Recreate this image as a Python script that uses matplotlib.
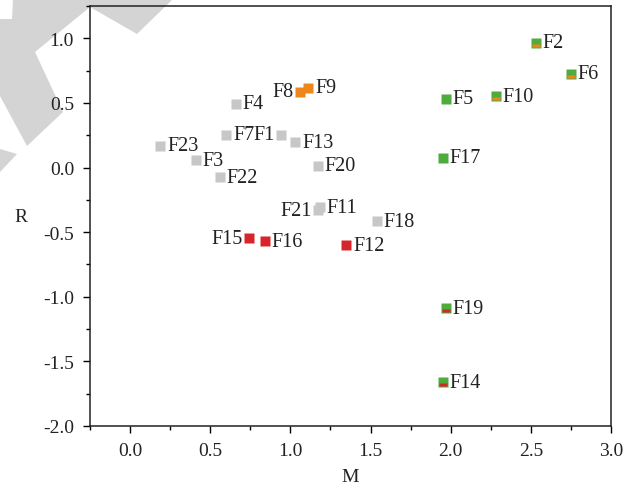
import matplotlib
matplotlib.use("Agg")
import matplotlib.pyplot as plt
from matplotlib.path import Path
from matplotlib.patches import Polygon
from matplotlib.ticker import MultipleLocator

plt.rcParams['font.family'] = ['Liberation Serif', 'DejaVu Serif']
plt.rcParams['axes.unicode_minus'] = False

# gray group
gray_names = ['F1', 'F3', 'F4', 'F7', 'F11', 'F13', 'F18', 'F20', 'F21', 'F22', 'F23']
gray_m = [0.94, 0.41, 0.66, 0.60, 1.182, 1.03, 1.54, 1.17, 1.175, 0.56, 0.187]
gray_r = [0.253, 0.055, 0.495, 0.253, -0.309, 0.196, -0.415, 0.015, -0.33, -0.075, 0.17]

# orange group
orange_names = ['F8', 'F9']
orange_m = [1.058, 1.11]
orange_r = [0.585, 0.616]

# red group
red_names = ['F12', 'F15', 'F16']
red_m = [1.348, 0.742, 0.84]
red_r = [-0.60, -0.549, -0.57]

# green group
green_names = ['F2', 'F5', 'F6', 'F10', 'F14', 'F17', 'F19']
green_m = [2.53, 1.97, 2.75, 2.28, 1.95, 1.95, 1.97]
green_r = [0.966, 0.533, 0.724, 0.551, -1.66, 0.075, -1.09]

# second colour hidden under some green points
under_orange_m = [2.53, 2.75, 2.28]
under_orange_r = [0.966, 0.724, 0.551]
under_red_m = [1.95, 1.97]
under_red_r = [-1.66, -1.09]

left_labels = ['F1', 'F8', 'F15', 'F21']

C_GRAY = '#c9c6c6'
C_ORANGE = '#ef861d'
C_RED = '#d7262b'
C_GREEN = '#4eab3c'
C_TEXT = '#222222'

fig = plt.figure(figsize=(6.37, 4.89), dpi=100)
ax = fig.add_axes([90 / 637, 1 - 427 / 489, 521 / 637, 420 / 489])
ax.set_facecolor('none')

# watermark in the corner (pixel coords -> figure fraction)
def px(pts):
    return [(x / 637, 1 - y / 489) for x, y in pts]

wm1 = [(13, 0), (173, 0), (137, 35), (90, 8), (35, 53), (63, 113), (27, 147), (0, 97), (0, 20), (12, 20)]
wm2 = [(0, 150), (17, 155), (0, 173)]
for pts in (wm1, wm2):
    fig.patches.append(Polygon(px(pts), closed=True, transform=fig.transFigure,
                               facecolor='#d4d4d4', edgecolor='none', zorder=-5))

ms = 7.2
ax.plot(gray_m, gray_r, 's', color=C_GRAY, ms=ms, mec='none', zorder=3)
ax.plot(orange_m, orange_r, 's', color=C_ORANGE, ms=ms, mec='none', zorder=3)
ax.plot(red_m, red_r, 's', color=C_RED, ms=ms, mec='none', zorder=3)
ax.plot(green_m, green_r, 's', color=C_GREEN, ms=ms, mec='none', zorder=3)

stripe = Path([(-0.42, -0.05), (0.42, -0.05), (0.42, -0.38), (-0.42, -0.38), (-0.42, -0.05), (0.5, 0.5)],
              [Path.MOVETO, Path.LINETO, Path.LINETO, Path.LINETO, Path.CLOSEPOLY, Path.MOVETO])
ax.plot(under_orange_m, under_orange_r, ls='none', marker=stripe, color=C_ORANGE, ms=ms, mec='none', zorder=4)
ax.plot(under_red_m, under_red_r, ls='none', marker=stripe, color=C_RED, ms=ms, mec='none', zorder=4)

for names, ms_, rs_ in ((gray_names, gray_m, gray_r), (orange_names, orange_m, orange_r),
                        (red_names, red_m, red_r), (green_names, green_m, green_r)):
    for n, x, y in zip(names, ms_, rs_):
        if n in left_labels:
            ax.annotate(n, (x, y), xytext=(-4.5, 0), textcoords='offset points',
                        ha='right', va='center', fontsize=14.5, color=C_TEXT)
        else:
            ax.annotate(n, (x, y), xytext=(5, 0), textcoords='offset points',
                        ha='left', va='center', fontsize=14.5, color=C_TEXT)

ax.set_xlim(-0.25, 3.0)
ax.set_ylim(-2.0, 1.25)
ax.xaxis.set_minor_locator(MultipleLocator(0.25))
ax.yaxis.set_minor_locator(MultipleLocator(0.25))
ax.set_xticks([0.0, 0.5, 1.0, 1.5, 2.0, 2.5, 3.0])
ax.set_yticks([-2.0, -1.5, -1.0, -0.5, 0.0, 0.5, 1.0])
ax.set_xticklabels(['0.0', '0.5', '1.0', '1.5', '2.0', '2.5', '3.0'], fontsize=14, color=C_TEXT)
ax.set_yticklabels(['-2.0', '-1.5', '-1.0', '-0.5', '0.0', '0.5', '1.0'], fontsize=14, color=C_TEXT)

ax.tick_params(which='major', direction='out', length=5, width=1, pad=6.5)
ax.tick_params(which='minor', direction='out', length=3, width=1)
ax.tick_params(top=False, right=False)
for s in ax.spines.values():
    s.set_linewidth(1.1)
    s.set_color(C_TEXT)

ax.set_xlabel('M', fontsize=14, color=C_TEXT, va='center')
ax.xaxis.set_label_coords(0.5, -0.12)
ax.set_ylabel('R', fontsize=14, color=C_TEXT, rotation=0, va='center', ha='center')
ax.yaxis.set_label_coords(-0.132, 0.5)

fig.savefig('out.png', dpi=100)
